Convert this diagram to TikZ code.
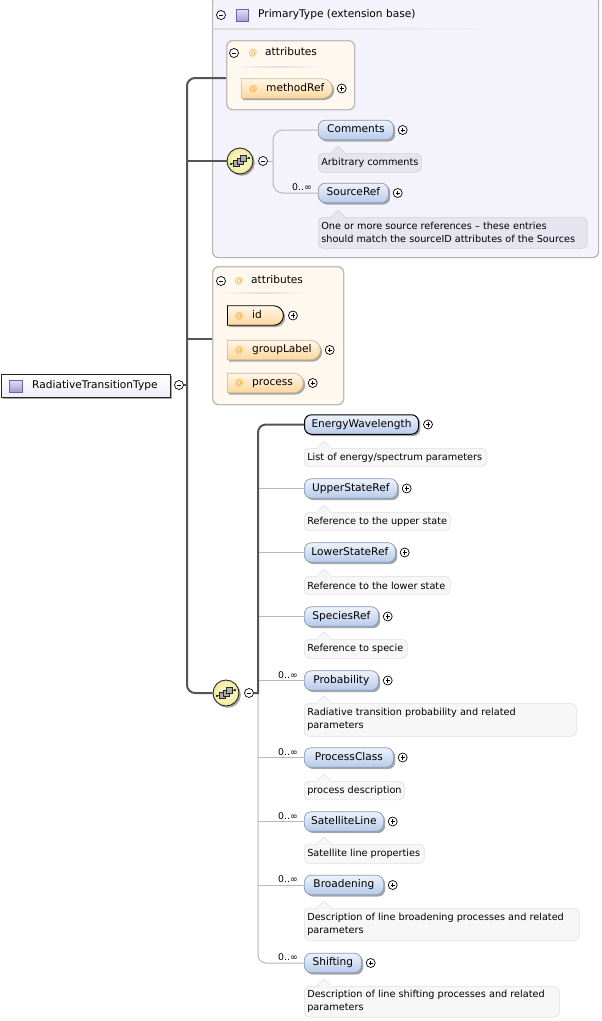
\documentclass[tikz,border=0pt]{standalone}
\usepackage{fontspec}
\setmainfont{DejaVu Sans}
\usetikzlibrary{shapes.misc,shadows}

\definecolor{elemtop}{HTML}{EEF3FC}
\definecolor{elembot}{HTML}{B6CAEA}
\definecolor{elemborder}{HTML}{8898B4}
\definecolor{attrtop}{HTML}{FFF7EA}
\definecolor{attrbot}{HTML}{FFD79C}
\definecolor{attrborder}{HTML}{C8B896}
\definecolor{attrat}{HTML}{F0A020}
\definecolor{grpfill}{HTML}{FFF8EE}
\definecolor{grpborder}{HTML}{BDBDBD}
\definecolor{ptfill}{HTML}{F4F2FA}
\definecolor{ptborder}{HTML}{B4B4B4}
\definecolor{notefillA}{HTML}{E6E4EE}
\definecolor{noteborderA}{HTML}{D2D0DC}
\definecolor{notefillB}{HTML}{F7F7F7}
\definecolor{noteborderB}{HTML}{E0E0E0}
\definecolor{trunkc}{HTML}{555555}
\definecolor{branchc}{HTML}{B8B8B8}
\definecolor{seqin}{HTML}{FFFFDC}
\definecolor{seqout}{HTML}{F0E89C}
\definecolor{icontop}{HTML}{E4DEF8}
\definecolor{iconbot}{HTML}{A898D4}
\definecolor{iconborder}{HTML}{7060A8}
\definecolor{rootbot}{HTML}{EEEDF8}

\newcommand\namefont{\fontsize{10.6}{12}\selectfont}
\newcommand\notefont{\fontsize{9.7}{13}\selectfont}
\newcommand\cardfont{\fontsize{9.3}{10}\selectfont}
\newcommand\atsign{\textcolor{attrat}{\fontsize{8.3}{8}\selectfont @}}

\tikzset{
 x=1pt, y=-1pt,
 pmbase/.style={circle, draw=black, fill=white, line width=0.7pt, minimum size=9pt, inner sep=0pt},
 pmminus/.style={pmbase, path picture={\draw[line width=0.7pt] ([xshift=-2.2pt]path picture bounding box.center) -- ([xshift=2.2pt]path picture bounding box.center);}},
 pmplus/.style={pmbase, path picture={\draw[line width=0.7pt] ([xshift=-2.2pt]path picture bounding box.center) -- ([xshift=2.2pt]path picture bounding box.center) ([yshift=-2.2pt]path picture bounding box.center) -- ([yshift=2.2pt]path picture bounding box.center);}},
 shadowed/.style={drop shadow={shadow xshift=1.8pt, shadow yshift=-1.8pt, fill=black!35, opacity=1}},
 elem/.style={rectangle, rounded corners=7pt, draw=elemborder, line width=0.7pt, top color=elemtop, bottom color=elembot, minimum height=19.5pt, inner xsep=0pt, inner ysep=0pt, text height=7.6pt, text depth=2.3pt, font=\namefont, shadowed},
 chosen/.style={draw=black, line width=1pt},
 attr/.style={rounded rectangle, rounded rectangle west arc=none, draw=attrborder, line width=0.7pt, top color=attrtop, bottom color=attrbot, minimum height=19.5pt, inner sep=0pt, shadowed},
 attrtext/.style={anchor=west, inner sep=0pt, text height=7.6pt, text depth=2.3pt, font=\namefont},
 plain/.style={anchor=west, inner sep=0pt, text height=7.6pt, text depth=2.3pt, font=\namefont},
 group/.style={rectangle, rounded corners=6pt, draw=grpborder, line width=1.4pt, fill=grpfill, anchor=north west, inner sep=0pt},
 container/.style={rectangle, rounded corners=6pt, draw=ptborder, line width=1.2pt, fill=ptfill, anchor=north west, inner sep=0pt},
 noteA/.style={rectangle, rounded corners=5pt, draw=noteborderA, fill=notefillA, line width=0.6pt, anchor=north west, inner xsep=3pt, inner ysep=0pt, font=\notefont},
 noteAptr/.style={fill=notefillA, draw=noteborderA, line width=0.6pt},
 noteB/.style={noteA, draw=noteborderB, fill=notefillB},
 noteBptr/.style={fill=notefillB, draw=noteborderB, line width=0.6pt},
 card/.style={anchor=south east, inner sep=0pt, font=\cardfont},
 trunk/.style={draw=trunkc, line width=2pt},
 branch/.style={draw=branchc, line width=1pt},
 seq/.style={circle, minimum size=26pt, inner sep=0pt, draw=black!85, line width=0.9pt, inner color=seqin, outer color=seqout, shadowed},
 typeicon/.style={rectangle, minimum width=12pt, minimum height=12pt, inner sep=0pt, draw=iconborder, line width=0.6pt, top color=icontop, bottom color=iconbot},
 rootbox/.style={rectangle, draw=black!85, line width=0.8pt, top color=white, bottom color=rootbot, inner sep=0pt, shadowed},
}

% #1 extra style, #2 name, #3 x, #4 y, #5 width, #6 text
\newcommand\xsdelem[6]{%
 \node[elem, #1, minimum width=#5pt, anchor=west] (#2) at (#3,#4) {#6};
 \node[pmplus] (#2-plus) at ([xshift=9pt]#2.east) {};}
% #1 extra style, #2 name, #3 x, #4 y, #5 width, #6 text
\newcommand\xsdattr[6]{%
 \node[attr, #1, minimum width=#5pt, anchor=west] (#2) at (#3,#4) {};
 \node[attrtext] (#2-t) at ([xshift=8pt]#2.west) {\makebox[17pt][l]{\atsign}#6};
 \node[pmplus] (#2-plus) at ([xshift=9pt]#2.east) {};}
% #1 style, #2 name, #3 x, #4 top y, #5 width, #6 height, #7 text
\newcommand\xsdnote[7]{%
 \node[#1, minimum height=#6pt] (#2) at (#3,#4) {\parbox{\dimexpr#5pt-6pt\relax}{\raggedright #7}};
 \path[#1ptr, draw=none] ([xshift=13pt,yshift=-0.8pt]#2.north west) -- ([xshift=20pt,yshift=7pt]#2.north west) -- ([xshift=27pt,yshift=-0.8pt]#2.north west) -- cycle;
 \draw[#1ptr, fill=none] ([xshift=13pt]#2.north west) -- ([xshift=20pt,yshift=7pt]#2.north west) -- ([xshift=27pt]#2.north west);}
\newcommand\seqicon[1]{%
 \begin{scope}[shift={(#1.center)}]
  \draw[black!85, line width=0.6pt] (-9,3) -- (9,-3);
  \fill[black] (-9,3) circle (1.1pt);
  \fill[black] (9,-3) circle (1.1pt);
  \foreach \dx/\dy in {-3.5/2.5, 0/0, 3.5/-2.5}
   \draw[fill=gray!65, draw=black!85, line width=0.5pt] (\dx-2.8,\dy-2.8) rectangle (\dx+2.8,\dy+2.8);
 \end{scope}}

\begin{document}
\begin{tikzpicture}
\fill[white] (0,0) rectangle (602,1021);
\useasboundingbox (0,0) rectangle (602,1021);

% ---------- PrimaryType container ----------
\node[container, minimum width=386pt, minimum height=262pt] (ptbox) at (212,-5) {};
\node[pmminus] (pt-minus) at (221,15) {};
\node[typeicon] (pt-icon) at (242,15.5) {};
\node[plain] (pt-title) at (258,15) {PrimaryType (extension base)};
\shade[left color=black!14, right color=ptfill] (214,28.4) rectangle (505,29.8);

% attributes group 1
\node[group, minimum width=128pt, minimum height=69pt] (attrs1) at (226,40) {};
\node[pmminus] (a1-minus) at (234,53) {};
\node[inner sep=0pt] (a1-at) at (253,53) {\atsign};
\node[plain] (a1-title) at (265,53) {attributes};
\shade[left color=grpfill, right color=grpfill, middle color=black!12] (230,66.3) rectangle (325,67.7);
\xsdattr{}{methodref}{241}{88.5}{91}{methodRef}

% sequence 1
\node[seq] (seq1) at (240,161) {};
\seqicon{seq1}
\node[pmminus] (seq1-minus) at (263,161) {};

\xsdelem{}{comments}{318}{130}{75}{Comments}
\xsdnote{noteA}{comments-note}{318}{153}{103}{19}{\mbox{Arbitrary comments}}
\xsdelem{}{sourceref}{318}{193}{70}{SourceRef}
\node[card] (sourceref-card) at ([xshift=-6pt,yshift=2pt]sourceref.west) {0..∞};
\xsdnote{noteA}{sourceref-note}{318}{217}{269}{31}{\mbox{One or more source references – these entries}\\\mbox{should match the sourceID attributes of the Sources}}

\coordinate (b1) at (273,161);
\draw[branch] (seq1-minus.east) -- (b1);
\draw[branch, rounded corners=10pt] (comments.west) -- (b1 |- comments.west) -- (b1 |- sourceref.west) -- (sourceref.west);

% ---------- attributes group 2 ----------
\node[group, minimum width=131pt, minimum height=138pt] (attrs2) at (212,266) {};
\node[pmminus] (a2-minus) at (221,281) {};
\node[inner sep=0pt] (a2-at) at (239,281) {\atsign};
\node[plain] (a2-title) at (251,281) {attributes};
\shade[left color=grpfill, right color=grpfill, middle color=black!12] (216,292.3) rectangle (310,293.7);
\xsdattr{draw=black, line width=0.9pt}{id}{227}{315.5}{56}{id}
\xsdattr{}{grouplabel}{227}{350}{93}{groupLabel}
\xsdattr{}{process}{227}{383}{76}{process}

% ---------- root ----------
\node[rootbox, minimum width=169pt, minimum height=23pt, anchor=north west] (root) at (1,374) {};
\node[typeicon, minimum width=13pt] (root-icon) at (15.5,386) {};
\node[plain] (root-t) at (32,385.5) {RadiativeTransitionType};
\node[pmminus] (root-minus) at (179,385) {};

% ---------- sequence 2 ----------
\node[seq] (seq2) at (226,693) {};
\seqicon{seq2}
\node[pmminus] (seq2-minus) at (249,693) {};

\xsdelem{chosen}{energy}{304}{424.5}{114}{EnergyWavelength}
\xsdnote{noteB}{energy-note}{304}{448}{182}{18.5}{\mbox{List of energy/spectrum parameters}}
\xsdelem{}{upper}{304}{488.5}{93}{UpperStateRef}
\xsdnote{noteB}{upper-note}{304}{512}{146}{18.5}{\mbox{Reference to the upper state}}
\xsdelem{}{lower}{304}{552.5}{91}{LowerStateRef}
\xsdnote{noteB}{lower-note}{304}{576}{146}{18.5}{\mbox{Reference to the lower state}}
\xsdelem{}{species}{304}{616.5}{74}{SpeciesRef}
\xsdnote{noteB}{species-note}{304}{639}{103}{19}{\mbox{Reference to specie}}
\xsdelem{}{prob}{304}{680.5}{74}{Probability}
\node[card] (prob-card) at ([xshift=-6pt,yshift=2pt]prob.west) {0..∞};
\xsdnote{noteB}{prob-note}{304}{703}{272}{33}{\mbox{Radiative transition probability and related}\\\mbox{parameters}}
\xsdelem{}{procclass}{304}{757.5}{89}{ProcessClass}
\node[card] (procclass-card) at ([xshift=-6pt,yshift=2pt]procclass.west) {0..∞};
\xsdnote{noteB}{procclass-note}{304}{781}{100}{18.5}{\mbox{process description}}
\xsdelem{}{satellite}{304}{821.5}{79}{SatelliteLine}
\node[card] (satellite-card) at ([xshift=-6pt,yshift=2pt]satellite.west) {0..∞};
\xsdnote{noteB}{satellite-note}{304}{844}{120}{19}{\mbox{Satellite line properties}}
\xsdelem{}{broadening}{304}{885}{79}{Broadening}
\node[card] (broadening-card) at ([xshift=-6pt,yshift=2pt]broadening.west) {0..∞};
\xsdnote{noteB}{broadening-note}{304}{908}{275}{32}{\mbox{Description of line broadening processes and related}\\\mbox{parameters}}
\xsdelem{}{shifting}{304}{963}{57}{Shifting}
\node[card] (shifting-card) at ([xshift=-6pt,yshift=2pt]shifting.west) {0..∞};
\xsdnote{noteB}{shifting-note}{304}{986}{255}{31}{\mbox{Description of line shifting processes and related}\\\mbox{parameters}}

\coordinate (b2) at (258,693);
\draw[branch, rounded corners=8pt] (b2) -- (b2 |- shifting.west) -- (shifting.west);
\foreach \n in {upper, lower, species, prob, procclass, satellite, broadening}
  \draw[branch] (b2 |- \n.west) -- (\n.west);
\draw[trunk] (seq2-minus.east) -- (b2) [rounded corners=8pt] -- (b2 |- energy.west) -- (energy.west);

% ---------- trunk ----------
\coordinate (tk) at (187,385);
\coordinate (y78) at (0,78);
\coordinate (y339) at (0,339);
\draw[trunk] (root-minus.east) -- (tk);
\draw[trunk, rounded corners=8pt] (attrs1.west |- y78) -- (tk |- y78) -- (tk |- seq2.center) -- (seq2.west);
\draw[trunk] (tk |- seq1.center) -- (seq1.west);
\draw[trunk] (tk |- y339) -- (attrs2.west |- y339);
\end{tikzpicture}
\end{document}
